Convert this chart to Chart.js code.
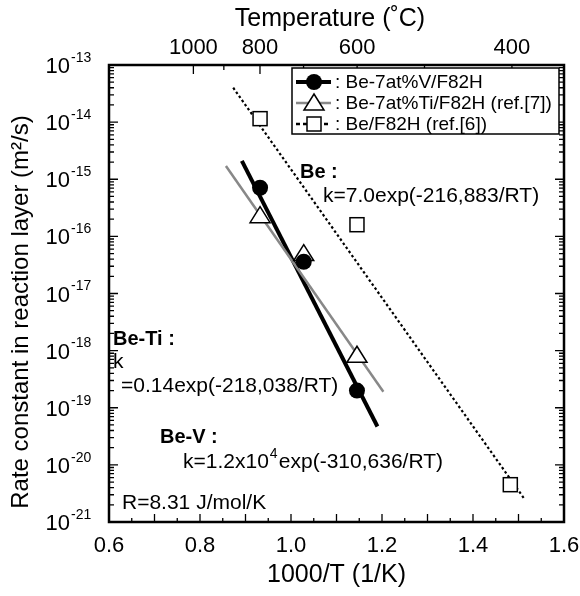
<html>
    <head>
        <script src="https://cdn.jsdelivr.net/npm/chart.js@4.4.0/dist/chart.umd.min.js"></script>
        <style>
            body {
                margin: 0px;
                background: #fff;
            }

            #wrap {
                width: 580px;
                height: 596px;
            }
        </style>
    </head>

    <body>
        <div id="wrap">
            <canvas id="chart"></canvas>
        </div>
        <script>
            // Data (x = 1000/T in 1/K, y = rate constant in m^2/s)
            const beVX = [0.932, 1.028, 1.145]
            const beVY = [7.1e-16, 3.6e-17, 2.0e-19]
            const beTiX = [0.932, 1.028, 1.145]
            const beTiY = [2.3e-16, 5.0e-17, 8.3e-19]
            const beX = [0.932, 1.145, 1.482]
            const beY = [1.15e-14, 1.6e-16, 4.5e-21]

            // fitted lines (end points)
            const beVFitX = [0.892, 1.19]
            const beVFitY = [2.1e-15, 4.7e-20]
            const beTiFitX = [0.857, 1.203]
            const beTiFitY = [1.7e-15, 1.9e-19]
            const beFitX = [0.873, 1.512]
            const beFitY = [4.0e-14, 2.6e-21]

            // axes
            const xTicks = [0.6, 0.8, 1.0, 1.2, 1.4, 1.6]
            const yExponents = [-13, -14, -15, -16, -17, -18, -19, -20, -21]
            const tempMajor = [1000, 800, 600, 400]
            const tempMinor = [900, 700, 500]

            const toPoints = (xs, ys) => xs.map((x, i) => ({ x: x, y: ys[i] }))
            const FONT = '"Liberation Sans", Arial, Helvetica, sans-serif'

            const drawMarker = (ctx, style, x, y) => {
                ctx.save()
                ctx.lineWidth = 1.5
                ctx.strokeStyle = '#000'
                ctx.setLineDash([])
                if (style === 'circle') {
                    ctx.fillStyle = '#000'
                    ctx.beginPath()
                    ctx.arc(x, y, 8, 0, Math.PI * 2)
                    ctx.fill()
                } else if (style === 'triangle') {
                    ctx.fillStyle = '#fff'
                    ctx.beginPath()
                    ctx.moveTo(x, y - 9)
                    ctx.lineTo(x + 10, y + 7)
                    ctx.lineTo(x - 10, y + 7)
                    ctx.closePath()
                    ctx.fill()
                    ctx.stroke()
                } else {
                    ctx.fillStyle = '#fff'
                    ctx.fillRect(x - 7, y - 7, 14, 14)
                    ctx.strokeRect(x - 7, y - 7, 14, 14)
                }
                ctx.restore()
            }

            const decorations = {
                id: 'decorations',
                afterDatasetsDraw(chart) {
                    const ctx = chart.ctx
                    const xs = chart.scales.x
                    const ys = chart.scales.y
                    const left = xs.getPixelForValue(0.6)
                    const right = xs.getPixelForValue(1.6)
                    const top = ys.getPixelForValue(1e-13)
                    const bottom = ys.getPixelForValue(1e-21)

                    ctx.save()
                    ctx.strokeStyle = '#000'
                    ctx.fillStyle = '#000'

                    // ticks, inward
                    ctx.lineWidth = 1.3
                    ctx.beginPath()
                    for (let v = 0.6; v <= 1.6001; v += 0.05) {
                        const px = xs.getPixelForValue(v)
                        const major = Math.abs(v * 10 - Math.round(v * 10)) < 0.01
                        const len = major ? 8 : 4
                        ctx.moveTo(px, bottom)
                        ctx.lineTo(px, bottom - len)
                    }
                    tempMajor.concat(tempMinor).forEach((t) => {
                        const px = xs.getPixelForValue(1000 / (t + 273.15))
                        const len = tempMajor.includes(t) ? 9 : 5
                        ctx.moveTo(px, top)
                        ctx.lineTo(px, top + len)
                    })
                    for (let e = -21; e < -13; e += 1) {
                        for (let m = 1; m < 10; m += 1) {
                            const py = ys.getPixelForValue(m * Math.pow(10, e))
                            const len = m === 1 ? 9 : 5
                            ctx.moveTo(left, py)
                            ctx.lineTo(left + len, py)
                            ctx.moveTo(right, py)
                            ctx.lineTo(right - len, py)
                        }
                    }
                    ctx.stroke()

                    // frame
                    ctx.lineWidth = 2.5
                    ctx.strokeRect(left, top, right - left, bottom - top)

                    // bottom tick labels
                    ctx.font = '22px ' + FONT
                    ctx.textAlign = 'center'
                    ctx.textBaseline = 'middle'
                    xTicks.forEach((v) => {
                        ctx.fillText(v.toFixed(1), xs.getPixelForValue(v), bottom + 24)
                    })
                    // top tick labels
                    tempMajor.forEach((t) => {
                        ctx.fillText(String(t), xs.getPixelForValue(1000 / (t + 273.15)), top - 17)
                    })

                    // y tick labels 10^n
                    yExponents.forEach((e) => {
                        const py = ys.getPixelForValue(Math.pow(10, e))
                        ctx.font = '22px ' + FONT
                        ctx.textAlign = 'right'
                        ctx.fillText('10', 70, py + 2)
                        ctx.font = '14px ' + FONT
                        ctx.textAlign = 'left'
                        ctx.fillText(String(e), 71, py - 7)
                    })

                    // axis titles
                    ctx.font = '25px ' + FONT
                    ctx.textAlign = 'center'
                    ctx.fillText('1000/T (1/K)', (left + right) / 2, bottom + 53)
                    ctx.fillText('Temperature (˚C)', 330, 19)
                    ctx.save()
                    ctx.translate(21, 312)
                    ctx.rotate(-Math.PI / 2)
                    ctx.font = '24px ' + FONT
                    ctx.fillText('Rate constant in reaction layer (m²/s)', 0, 0)
                    ctx.restore()

                    // legend box
                    ctx.fillStyle = '#fff'
                    ctx.fillRect(292, 68, 267, 66)
                    ctx.lineWidth = 1.5
                    ctx.strokeRect(292, 68, 267, 66)
                    const rows = [
                        { label: ': Be-7at%V/F82H', color: '#000', width: 4, dash: [], marker: 'circle' },
                        { label: ': Be-7at%Ti/F82H (ref.[7])', color: '#888', width: 2.5, dash: [], marker: 'triangle' },
                        { label: ': Be/F82H (ref.[6])', color: '#000', width: 2.5, dash: [4, 3], marker: 'rect' },
                    ]
                    rows.forEach((r, i) => {
                        const y = 82 + i * 21
                        ctx.strokeStyle = r.color
                        ctx.lineWidth = r.width
                        ctx.setLineDash(r.dash)
                        ctx.beginPath()
                        ctx.moveTo(296, y)
                        ctx.lineTo(331, y)
                        ctx.stroke()
                        ctx.setLineDash([])
                        drawMarker(ctx, r.marker, 314, y)
                        ctx.fillStyle = '#000'
                        ctx.font = '19px ' + FONT
                        ctx.textAlign = 'left'
                        ctx.fillText(r.label, 335, y + 1)
                    })

                    // annotations
                    ctx.fillStyle = '#000'
                    ctx.textAlign = 'left'
                    ctx.font = 'bold 20px ' + FONT
                    ctx.fillText('Be :', 300, 172)
                    ctx.fillText('Be-Ti :', 113, 339)
                    ctx.fillText('Be-V :', 160, 437)
                    ctx.font = '21px ' + FONT
                    ctx.fillText('k=7.0exp(-216,883/RT)', 323, 196)
                    ctx.fillText('k', 113, 362)
                    ctx.fillText('=0.14exp(-218,038/RT)', 121, 386)
                    ctx.fillText('k=1.2x10', 183, 462)
                    const w = ctx.measureText('k=1.2x10').width
                    ctx.font = '14px ' + FONT
                    ctx.fillText('4', 183 + w + 1, 454)
                    ctx.font = '21px ' + FONT
                    ctx.fillText('exp(-310,636/RT)', 183 + w + 10, 462)
                    ctx.fillText('R=8.31 J/mol/K', 122, 503)
                    ctx.restore()

                    // markers drawn on top of lines
                    const sets = [
                        [beTiX, beTiY, 'triangle'],
                        [beX, beY, 'rect'],
                        [beVX, beVY, 'circle'],
                    ]
                    sets.forEach(([px, py, style]) => {
                        px.forEach((x, i) => {
                            drawMarker(ctx, style, xs.getPixelForValue(x), ys.getPixelForValue(py[i]))
                        })
                    })
                },
            }

            const ctx = document.getElementById('chart')
            const chart = new Chart(ctx, {
                type: 'scatter',
                data: {
                    datasets: [
                        {
                            label: 'Be/F82H fit',
                            data: toPoints(beFitX, beFitY),
                            showLine: true,
                            borderColor: '#000',
                            borderWidth: 2.2,
                            borderDash: [2.5, 2.5],
                            pointRadius: 0,
                        },
                        {
                            label: 'Be-7at%Ti/F82H fit',
                            data: toPoints(beTiFitX, beTiFitY),
                            showLine: true,
                            borderColor: '#888',
                            borderWidth: 2.5,
                            pointRadius: 0,
                        },
                        {
                            label: 'Be-7at%V/F82H fit',
                            data: toPoints(beVFitX, beVFitY),
                            showLine: true,
                            borderColor: '#000',
                            borderWidth: 4,
                            pointRadius: 0,
                        },
                    ],
                },
                options: {
                    responsive: true,
                    maintainAspectRatio: false,
                    animation: false,
                    layout: {
                        padding: { left: 101, right: 16, top: 65, bottom: 66 },
                    },
                    plugins: {
                        legend: { display: false },
                        tooltip: { enabled: false },
                    },
                    scales: {
                        x: {
                            type: 'linear',
                            min: 0.6,
                            max: 1.6,
                            grid: { display: false },
                            border: { display: false },
                            ticks: { display: false },
                        },
                        y: {
                            type: 'logarithmic',
                            min: 1e-21,
                            max: 1e-13,
                            grid: { display: false },
                            border: { display: false },
                            ticks: { display: false },
                        },
                    },
                },
                plugins: [decorations],
            })
        </script>
    </body>
</html>
